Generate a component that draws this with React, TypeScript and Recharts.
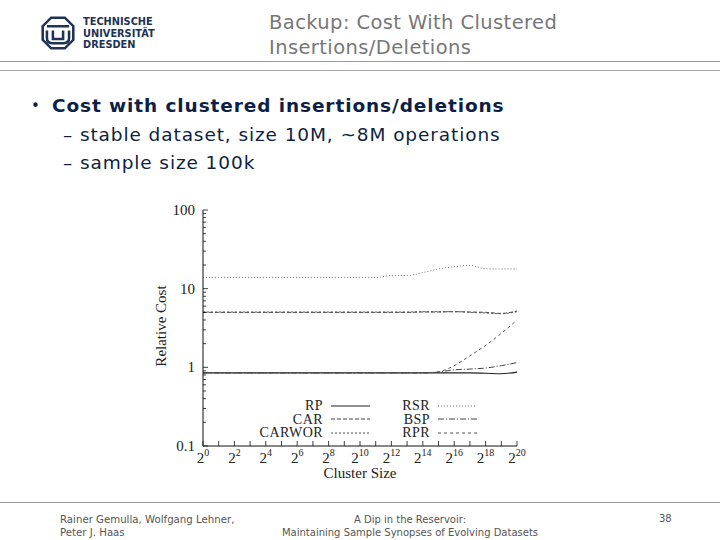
import React from "react";
import { LineChart, Line, XAxis, YAxis } from "recharts";

// cluster size exponents (2^k)
const exponents = [0, 1, 2, 3, 4, 5, 6, 7, 8, 9, 10, 11, 12, 13, 14, 15, 16, 17, 18, 19, 20];

const rpCost = [0.85, 0.85, 0.85, 0.85, 0.85, 0.85, 0.85, 0.85, 0.85, 0.85, 0.85, 0.85, 0.85, 0.85, 0.85, 0.85, 0.85, 0.85, 0.84, 0.83, 0.87];
const rsrCost = [13.9, 13.9, 13.9, 13.9, 13.9, 13.9, 13.9, 13.9, 13.9, 13.9, 13.9, 13.9, 14.7, 14.7, 16.0, 17.8, 19.0, 19.8, 17.9, 17.8, 17.8];
const carCost = [5.0, 5.0, 5.0, 5.0, 5.0, 5.0, 5.0, 5.0, 5.0, 5.0, 5.0, 5.0, 5.0, 5.0, 5.05, 5.05, 5.1, 5.05, 5.0, 4.85, 5.2];
const carworCost = [5.05, 5.05, 5.05, 5.05, 5.05, 5.05, 5.05, 5.05, 5.05, 5.05, 5.05, 5.05, 5.05, 5.05, 5.1, 5.1, 5.1, 5.0, 4.9, 4.8, 5.1];
const bspCost = [0.85, 0.85, 0.85, 0.85, 0.85, 0.85, 0.85, 0.85, 0.85, 0.85, 0.85, 0.85, 0.85, 0.85, 0.85, 0.87, 0.93, 0.95, 0.98, 1.05, 1.15];
const rprCost = [0.85, 0.85, 0.85, 0.85, 0.85, 0.85, 0.85, 0.85, 0.85, 0.85, 0.85, 0.85, 0.85, 0.85, 0.85, 0.88, 1.05, 1.4, 1.9, 2.7, 4.0];

const yTicks = [
  0.1, 0.2, 0.3, 0.4, 0.5, 0.6, 0.7, 0.8, 0.9,
  1, 2, 3, 4, 5, 6, 7, 8, 9,
  10, 20, 30, 40, 50, 60, 70, 80, 90, 100,
];
const yLabels = [0.1, 1, 10, 100];

const data = exponents.map((k, i) => ({
  k,
  RP: rpCost[i],
  RSR: rsrCost[i],
  CAR: carCost[i],
  CARWOR: carworCost[i],
  BSP: bspCost[i],
  RPR: rprCost[i],
}));

const series = [
  { key: "RP", stroke: "#222", dash: undefined, width: 1.1 },
  { key: "CAR", stroke: "#444", dash: "4 2", width: 1 },
  { key: "CARWOR", stroke: "#555", dash: "2 2", width: 1 },
  { key: "RSR", stroke: "#777", dash: "1 2", width: 1 },
  { key: "BSP", stroke: "#444", dash: "6 2 1 2", width: 1 },
  { key: "RPR", stroke: "#555", dash: "3 3", width: 1 },
];

const serif = "'Liberation Serif', 'DejaVu Serif', serif";
const sans = "'DejaVu Sans', Verdana, sans-serif";

const PLOT_LEFT = 53;
const PLOT_BOTTOM = 251;

const YTick = (props: any) => {
  const { y, payload } = props;
  const v = payload.value;
  const major = yLabels.some((m) => Math.abs(m - v) < 1e-9);
  return (
    <g>
      <line x1={PLOT_LEFT} x2={PLOT_LEFT + (major ? 5 : 3)} y1={y} y2={y} stroke="#111" strokeWidth={0.8} />
      {major && (
        <text x={PLOT_LEFT - 8} y={y + 5} textAnchor="end" fontFamily={serif} fontSize={15} fill="#222">
          {v}
        </text>
      )}
    </g>
  );
};

const XTick = (props: any) => {
  const { x, payload } = props;
  const k = payload.value;
  return (
    <g>
      <line x1={x} x2={x} y1={PLOT_BOTTOM} y2={PLOT_BOTTOM - 5} stroke="#111" strokeWidth={0.8} />
      {k % 2 === 0 && (
        <text x={x} y={PLOT_BOTTOM + 17} textAnchor="middle" fontFamily={serif} fill="#222">
          <tspan fontSize={15}>2</tspan>
          <tspan fontSize={10} dy={-7}>{k}</tspan>
        </text>
      )}
    </g>
  );
};

// legend drawn as an overlay inside the plot, two columns like the original
const LegendBox = () => {
  const cols = [series.slice(0, 3), series.slice(3)];
  const labelW = [83, 50];
  const lefts = [240, 380];
  return (
    <>
      {cols.map((col, ci) => (
        <div key={ci} style={{ position: "absolute", left: lefts[ci], top: 399, fontFamily: serif, fontSize: 14, letterSpacing: 0.45, color: "#222" }}>
          {col.map((s) => (
            <div key={s.key} style={{ display: "flex", alignItems: "center", height: 13.5, lineHeight: "13.5px" }}>
              <span style={{ width: labelW[ci], textAlign: "right", marginRight: 8 }}>{s.key}</span>
              <svg width={39} height={6}>
                <line x1={0} x2={39} y1={3} y2={3} stroke={s.stroke} strokeWidth={s.width} strokeDasharray={s.dash} />
              </svg>
            </div>
          ))}
        </div>
      ))}
    </>
  );
};

const Logo = () => (
  <svg width={34} height={34} viewBox="0 0 40 40">
    <polygon points="12,2 28,2 38,12 38,28 28,38 12,38 2,28 2,12" fill="none" stroke="#1e3355" strokeWidth={3} />
    <path d="M7,12 H33 M7,17 V26 Q7,32 13,32 H27 Q33,32 33,26 V17 M14,17 V27 H26 V17" fill="none" stroke="#1e3355" strokeWidth={3} />
  </svg>
);

export default function App() {
  return (
    <div style={{ position: "absolute", left: 0, top: 0, width: 720, height: 540, background: "#fff", overflow: "hidden" }}>
      <div style={{ position: "absolute", left: 41, top: 16 }}>
        <Logo />
      </div>
      <div
        style={{
          position: "absolute",
          left: 83,
          top: 16,
          fontFamily: "'DejaVu Sans Condensed', 'DejaVu Sans', sans-serif",
          fontWeight: "bold",
          fontSize: 11,
          lineHeight: "11.5px",
          color: "#1e3355",
          transform: "scaleX(0.99)",
          transformOrigin: "left top",
        }}
      >
        <div>TECHNISCHE</div>
        <div>UNIVERSITÄT</div>
        <div>DRESDEN</div>
      </div>
      <div style={{ position: "absolute", left: 269, top: 10, fontFamily: sans, fontSize: 19.5, letterSpacing: 0.4, lineHeight: "25px", color: "#777" }}>
        <div>Backup: Cost With Clustered</div>
        <div>Insertions/Deletions</div>
      </div>
      <div style={{ position: "absolute", left: 0, top: 61, width: 720, height: 1, background: "#999" }} />
      <div style={{ position: "absolute", left: 0, top: 70, width: 720, height: 1, background: "#aaa" }} />

      <div style={{ position: "absolute", left: 28, top: 92, fontFamily: sans, fontSize: 18.5, letterSpacing: 0.9, lineHeight: "28.5px", color: "#0d1f44" }}>
        <div style={{ position: "relative" }}>
          <span style={{ position: "absolute", left: 3, top: 0, fontSize: 15 }}>•</span>
          <span style={{ fontWeight: "bold", marginLeft: 24 }}>Cost with clustered insertions/deletions</span>
        </div>
        <div style={{ paddingLeft: 35 }}>– stable dataset, size 10M, ~8M operations</div>
        <div style={{ paddingLeft: 35 }}>– sample size 100k</div>
      </div>

      <div style={{ position: "absolute", left: 150, top: 195 }}>
        <LineChart width={380} height={290} data={data} margin={{ top: 15, right: 13, left: 0, bottom: 0 }}>
          <XAxis
            dataKey="k"
            type="number"
            domain={[0, 20]}
            ticks={exponents}
            interval={0}
            height={39}
            tickLine={false}
            tick={<XTick />}
            stroke="#111"
          />
          <YAxis
            scale="log"
            domain={[0.1, 100]}
            ticks={yTicks}
            interval={0}
            width={53}
            tickLine={false}
            tick={<YTick />}
            allowDataOverflow
            stroke="#111"
          />
          {series.map((s) => (
            <Line
              key={s.key}
              dataKey={s.key}
              type="monotone"
              stroke={s.stroke}
              strokeWidth={s.width}
              strokeDasharray={s.dash}
              dot={false}
              isAnimationActive={false}
            />
          ))}
        </LineChart>
        <div style={{ position: "absolute", left: 11, top: 131, height: 0 }}>
          <div style={{ position: "absolute", transform: "translate(-50%, -50%) rotate(-90deg)", fontFamily: serif, fontSize: 15, color: "#222", whiteSpace: "nowrap" }}>
            Relative Cost
          </div>
        </div>
        <div style={{ position: "absolute", left: 160, top: 271, width: 100, textAlign: "center", fontFamily: serif, fontSize: 15, lineHeight: "15px", color: "#222" }}>
          Cluster Size
        </div>
      </div>

      <LegendBox />

      <div style={{ position: "absolute", left: 0, top: 502, width: 720, height: 1, background: "#999" }} />
      <div style={{ position: "absolute", left: 60, top: 513, fontFamily: sans, fontSize: 10.2, lineHeight: "13px", color: "#555" }}>
        <div>Rainer Gemulla, Wolfgang Lehner,</div>
        <div>Peter J. Haas</div>
      </div>
      <div style={{ position: "absolute", left: 260, top: 513, width: 300, textAlign: "center", fontFamily: sans, fontSize: 10, lineHeight: "13px", color: "#555" }}>
        <div>A Dip in the Reservoir:</div>
        <div>Maintaining Sample Synopses of Evolving Datasets</div>
      </div>
      <div style={{ position: "absolute", left: 659, top: 513, fontFamily: sans, fontSize: 10, color: "#555" }}>38</div>
    </div>
  );
}
